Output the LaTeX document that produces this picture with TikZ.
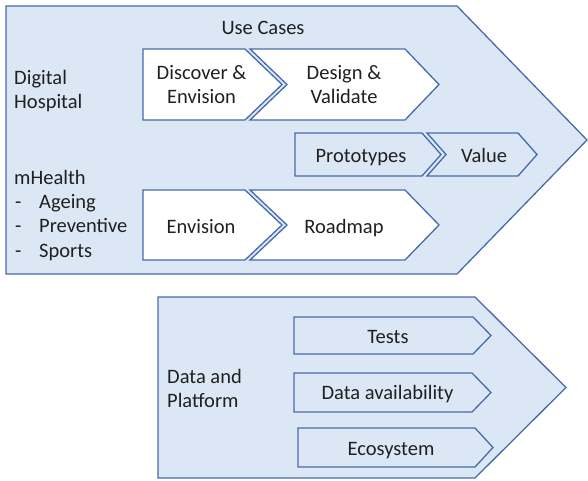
\documentclass[tikz,border=0pt]{standalone}
\usepackage{fontspec}
\setmainfont{Carlito}
\definecolor{shfill}{HTML}{DCE7F5}
\definecolor{shline}{HTML}{456CAA}
\definecolor{txt}{HTML}{202020}
\begin{document}
\begin{tikzpicture}[x=1pt,y=-1pt,
  panel/.style={draw=shline,fill=shfill,line width=1.3pt,line join=miter},
  whitebox/.style={draw=shline,fill=white,line width=1.3pt,line join=miter},
  bluebox/.style={draw=shline,fill=shfill,line width=1.3pt,line join=miter},
  lbl/.style={inner sep=0pt,text=txt,font=\fontsize{20.5}{24}\selectfont}]
\useasboundingbox (0,0) rectangle (588,481);
% big panels
\draw[panel] (6,6) -- (457,6) -- (587,140) -- (457,274) -- (6,274) -- cycle;
\draw[panel] (158,297) -- (475,297) -- (566,387.5) -- (475,478) -- (158,478) -- cycle;
% top row
\draw[whitebox] (143,49) -- (245,49) -- (282,84.5) -- (245,120) -- (143,120) -- cycle;
\draw[whitebox] (250,49) -- (405,49) -- (439,84.5) -- (405,120) -- (250,120) -- (287,84.5) -- cycle;
% bottom row
\draw[whitebox] (143,190) -- (245,190) -- (282,225) -- (245,260) -- (143,260) -- cycle;
\draw[whitebox] (250,190) -- (405,190) -- (439,225) -- (405,260) -- (250,260) -- (287,225) -- cycle;
% prototypes / value
\draw[bluebox] (295,133) -- (422,133) -- (441,154.5) -- (422,176) -- (295,176) -- cycle;
\draw[bluebox] (427,133) -- (518,133) -- (537,154.5) -- (518,176) -- (427,176) -- (446,154.5) -- cycle;
% data and platform boxes
\draw[bluebox] (294,317) -- (473,317) -- (491,335.5) -- (473,354) -- (294,354) -- cycle;
\draw[bluebox] (294,373) -- (472,373) -- (491,392.5) -- (472,412) -- (294,412) -- cycle;
\draw[bluebox] (298,428) -- (475,428) -- (493,447.5) -- (475,467) -- (298,467) -- cycle;
% texts
\node[lbl,anchor=base] (uc) at (263,35) {Use Cases};
\node[lbl,anchor=base west] (dh1) at (14,85) {Digital};
\node[lbl,anchor=base west] (dh2) at (14,108.5) {Hospital};
\node[lbl,anchor=base west] (mh) at (14,184) {mHealth};
\node[lbl,anchor=base west] (d1) at (15,208) {-};
\node[lbl,anchor=base west] (ag) at (39,208) {Ageing};
\node[lbl,anchor=base west] (d2) at (15,232) {-};
\node[lbl,anchor=base west] (pv) at (39,232) {Preventive};
\node[lbl,anchor=base west] (d3) at (15,257) {-};
\node[lbl,anchor=base west] (sp) at (39,257) {Sports};
\node[lbl,anchor=base] (de1) at (201.5,80) {Discover \&};
\node[lbl,anchor=base] (de2) at (201.5,104) {Envision};
\node[lbl,anchor=base] (dv1) at (344,80) {Design \&};
\node[lbl,anchor=base] (dv2) at (344,103.5) {Validate};
\node[lbl,anchor=base] (pt) at (361,162) {Prototypes};
\node[lbl,anchor=base] (va) at (484,162) {Value};
\node[lbl,anchor=base] (en) at (201,233) {Envision};
\node[lbl,anchor=base] (rm) at (344,233) {Roadmap};
\node[lbl,anchor=base west] (dp1) at (167,383) {Data and};
\node[lbl,anchor=base west] (dp2) at (167,407) {Platform};
\node[lbl,anchor=base] (te) at (388,343) {Tests};
\node[lbl,anchor=base] (da) at (387.5,399) {Data availability};
\node[lbl,anchor=base] (ec) at (391,455) {Ecosystem};
\end{tikzpicture}
\end{document}
